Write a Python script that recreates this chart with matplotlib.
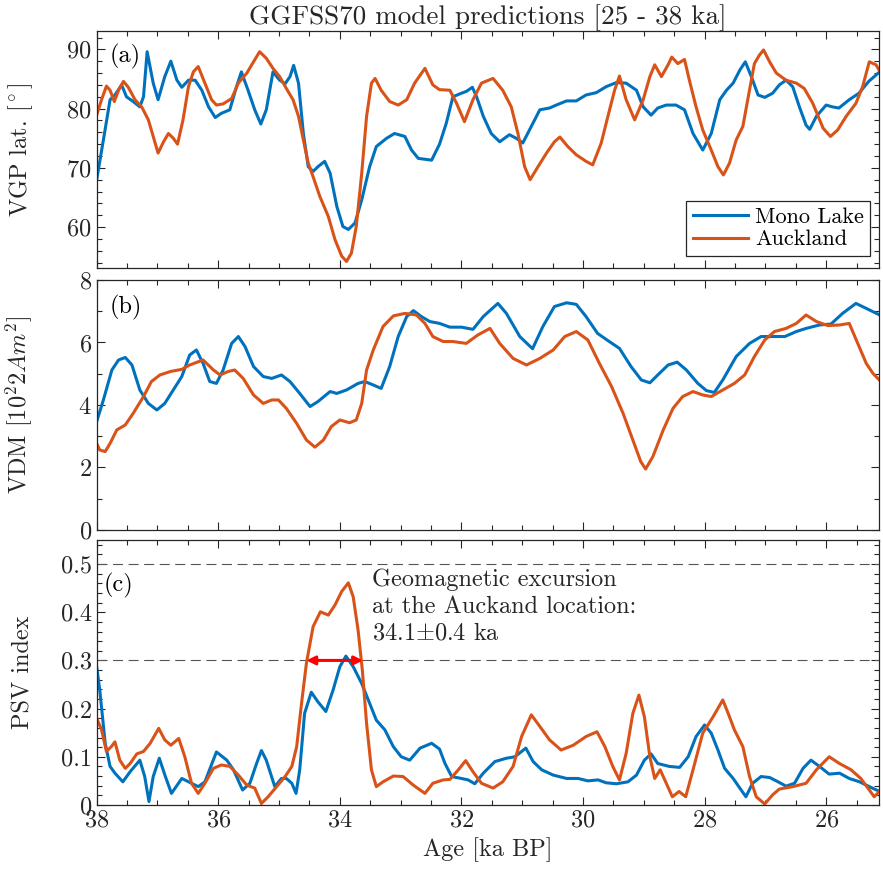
import numpy as np
import matplotlib
matplotlib.use("Agg")
import matplotlib.pyplot as plt
from matplotlib.ticker import MultipleLocator, FuncFormatter

plt.rcParams['font.family'] = 'serif'
plt.rcParams['font.serif'] = ['cmr10']
plt.rcParams['mathtext.fontset'] = 'cm'
plt.rcParams['axes.formatter.use_mathtext'] = True

BLUE = '#0072BD'
ORANGE = '#D95319'

# ---- panel (a): VGP latitude ----
age_vgp_mono = [38.0, 37.89, 37.78, 37.70, 37.59, 37.51, 37.40, 37.29, 37.23, 37.17, 37.07, 36.99,
                36.88, 36.78, 36.68, 36.60, 36.49, 36.38, 36.27, 36.16, 36.05, 35.95, 35.81, 35.70,
                35.62, 35.51, 35.40, 35.30, 35.21, 35.10, 34.99, 34.90, 34.82, 34.76, 34.68, 34.60,
                34.52, 34.44, 34.36, 34.25, 34.16, 34.05, 33.95, 33.86, 33.75, 33.64, 33.51, 33.40,
                33.23, 33.10, 32.93, 32.82, 32.71, 32.49, 32.36, 32.25, 32.14, 32.0, 31.92, 31.82,
                31.75, 31.64, 31.51, 31.37, 31.21, 31.10, 30.99, 30.85, 30.71, 30.55, 30.44, 30.27,
                30.11, 29.95, 29.78, 29.62, 29.45, 29.29, 29.12, 29.01, 28.88, 28.77, 28.63, 28.47,
                28.33, 28.19, 28.03, 27.89, 27.75, 27.64, 27.53, 27.42, 27.33, 27.23, 27.12, 27.01,
                26.88, 26.77, 26.66, 26.55, 26.44, 26.33, 26.27, 26.16, 26.0, 25.90, 25.79, 25.62,
                25.46, 25.30, 25.12]
vgp_mono = [68.0, 74.7, 81.5, 82.3, 84.0, 82.0, 81.2, 80.3, 82.0, 89.6, 84.3, 81.5,
            85.4, 88.0, 84.8, 83.6, 84.8, 84.8, 83.1, 80.3, 78.5, 79.2, 79.8, 83.7,
            86.2, 83.1, 79.8, 77.4, 79.8, 86.2, 84.8, 84.2, 85.4, 87.3, 84.3, 75.8,
            70.2, 69.4, 70.2, 71.1, 69.1, 63.5, 60.1, 59.6, 60.7, 64.6, 70.2, 73.6,
            75.0, 75.8, 75.3, 73.0, 71.6, 71.3, 74.0, 77.5, 82.0, 82.6, 82.9, 83.6,
            82.0, 78.7, 75.8, 74.4, 75.6, 75.0, 74.2, 77.0, 79.8, 80.1, 80.6, 81.3,
            81.3, 82.3, 82.7, 83.7, 84.4, 84.3, 83.1, 80.3, 78.9, 80.1, 80.6, 80.6,
            79.8, 75.8, 73.0, 75.8, 81.5, 83.1, 84.3, 86.5, 87.9, 85.4, 82.3, 81.9,
            82.6, 84.0, 84.8, 83.7, 80.3, 77.2, 76.5, 78.7, 80.6, 80.3, 80.1, 81.5,
            82.6, 84.6, 86.2]

age_vgp_auck = [38.0, 37.92, 37.84, 37.78, 37.71, 37.64, 37.56, 37.48, 37.37, 37.26, 37.15, 37.07,
                36.99, 36.90, 36.82, 36.74, 36.67, 36.58, 36.49, 36.41, 36.33, 36.22, 36.11, 36.03,
                35.92, 35.78, 35.67, 35.53, 35.42, 35.32, 35.21, 35.10, 34.99, 34.88, 34.77, 34.68,
                34.60, 34.52, 34.44, 34.33, 34.19, 34.08, 33.97, 33.89, 33.81, 33.73, 33.64, 33.56,
                33.48, 33.42, 33.32, 33.18, 33.04, 32.90, 32.77, 32.60, 32.47, 32.36, 32.19, 32.08,
                31.95, 31.81, 31.67, 31.48, 31.32, 31.18, 31.07, 30.96, 30.87, 30.74, 30.60, 30.47,
                30.38, 30.25, 30.11, 29.95, 29.84, 29.70, 29.59, 29.48, 29.40, 29.29, 29.15, 29.01,
                28.90, 28.82, 28.71, 28.60, 28.54, 28.44, 28.33, 28.25, 28.14, 28.03, 27.89, 27.78,
                27.69, 27.59, 27.48, 27.37, 27.29, 27.18, 27.10, 27.03, 26.93, 26.82, 26.66, 26.49,
                26.36, 26.22, 26.05, 25.93, 25.81, 25.67, 25.51, 25.40, 25.29, 25.18, 25.10]
vgp_auck = [78.9, 81.5, 83.8, 83.1, 81.2, 83.1, 84.6, 83.6, 81.5, 80.3, 78.1, 75.3,
            72.5, 74.4, 75.8, 75.0, 74.0, 78.1, 83.7, 86.2, 87.1, 84.3, 81.5, 80.6,
            80.8, 81.7, 84.3, 86.0, 87.9, 89.6, 88.5, 86.8, 85.4, 83.4, 81.5, 78.7,
            74.7, 70.8, 68.5, 65.2, 61.8, 57.9, 55.1, 54.2, 55.6, 60.1, 69.1, 78.7,
            84.3, 85.1, 83.1, 81.2, 80.6, 81.5, 84.3, 86.8, 84.0, 83.2, 83.1, 80.9,
            77.8, 81.5, 84.3, 85.1, 83.1, 80.3, 75.8, 70.2, 68.0, 70.2, 72.5, 74.4,
            75.2, 73.6, 72.2, 71.1, 70.5, 74.2, 78.7, 83.1, 85.5, 81.5, 78.1, 81.5,
            85.4, 87.4, 85.4, 87.4, 88.7, 87.6, 88.3, 84.8, 80.3, 76.4, 73.0, 70.2,
            68.8, 70.8, 74.7, 77.0, 81.5, 87.6, 89.0, 89.9, 87.9, 86.0, 84.8, 84.3,
            83.4, 80.9, 76.7, 75.3, 76.4, 78.7, 80.9, 83.7, 87.9, 87.4, 86.0]

# ---- panel (b): VDM ----
age_vdm_mono = [38.0, 37.89, 37.75, 37.64, 37.53, 37.42, 37.29, 37.15, 37.01, 36.88, 36.74, 36.60,
                36.47, 36.36, 36.25, 36.14, 36.03, 35.92, 35.78, 35.67, 35.56, 35.42, 35.26, 35.12,
                34.96, 34.82, 34.66, 34.49, 34.36, 34.16, 34.05, 33.89, 33.70, 33.59, 33.45, 33.32,
                33.18, 33.04, 32.90, 32.79, 32.66, 32.52, 32.36, 32.19, 32.0, 31.81, 31.64, 31.40,
                31.26, 31.04, 30.83, 30.66, 30.47, 30.27, 30.11, 29.95, 29.76, 29.59, 29.40, 29.21,
                29.04, 28.90, 28.77, 28.60, 28.45, 28.30, 28.11, 27.97, 27.84, 27.70, 27.48, 27.26,
                27.07, 26.88, 26.68, 26.49, 26.33, 26.11, 25.92, 25.73, 25.51, 25.34, 25.12]
vdm_mono = [3.47, 4.16, 5.12, 5.44, 5.52, 5.28, 4.48, 4.05, 3.84, 4.05, 4.48, 4.91,
            5.60, 5.76, 5.33, 4.75, 4.69, 5.12, 5.97, 6.19, 5.87, 5.23, 4.91, 4.85,
            4.96, 4.75, 4.37, 3.95, 4.11, 4.43, 4.37, 4.48, 4.69, 4.75, 4.64, 4.53,
            5.23, 6.19, 6.83, 7.02, 6.83, 6.67, 6.61, 6.49, 6.49, 6.42, 6.83, 7.25,
            6.93, 6.19, 5.80, 6.51, 7.15, 7.27, 7.22, 6.83, 6.29, 6.06, 5.81, 5.23,
            4.80, 4.71, 4.96, 5.28, 5.37, 5.12, 4.69, 4.46, 4.40, 4.80, 5.55, 5.97,
            6.19, 6.19, 6.19, 6.35, 6.45, 6.56, 6.59, 6.93, 7.25, 7.09, 6.88]

age_vdm_auck = [38.0, 37.95, 37.86, 37.78, 37.67, 37.53, 37.40, 37.23, 37.10, 36.96, 36.79, 36.60,
                36.47, 36.25, 36.08, 35.97, 35.84, 35.73, 35.59, 35.42, 35.26, 35.12, 35.01, 34.88,
                34.71, 34.55, 34.41, 34.27, 34.14, 34.0, 33.84, 33.73, 33.64, 33.56, 33.45, 33.29,
                33.12, 32.93, 32.74, 32.60, 32.47, 32.30, 32.14, 31.92, 31.73, 31.53, 31.37, 31.15,
                30.93, 30.71, 30.49, 30.30, 30.11, 29.92, 29.73, 29.53, 29.34, 29.18, 29.05, 28.97,
                28.85, 28.68, 28.52, 28.36, 28.19, 28.03, 27.89, 27.70, 27.51, 27.34, 27.18, 27.01,
                26.85, 26.66, 26.49, 26.33, 26.16, 25.97, 25.78, 25.62, 25.48, 25.34, 25.23, 25.10]
vdm_auck = [2.77, 2.56, 2.51, 2.77, 3.20, 3.36, 3.73, 4.27, 4.75, 4.96, 5.07, 5.14,
            5.28, 5.44, 5.12, 4.96, 5.07, 5.12, 4.85, 4.32, 4.05, 4.16, 4.16, 3.89,
            3.41, 2.88, 2.65, 2.88, 3.31, 3.52, 3.43, 3.52, 4.05, 5.12, 5.76, 6.51,
            6.85, 6.93, 6.88, 6.61, 6.19, 6.03, 6.03, 5.97, 6.24, 6.45, 5.97, 5.49,
            5.28, 5.49, 5.76, 6.19, 6.35, 6.08, 5.33, 4.59, 3.73, 2.88, 2.19, 1.95,
            2.35, 3.20, 3.89, 4.27, 4.43, 4.32, 4.27, 4.48, 4.69, 4.96, 5.55, 6.08,
            6.35, 6.45, 6.61, 6.88, 6.67, 6.54, 6.56, 6.61, 5.97, 5.33, 5.01, 4.75]

# ---- panel (c): PSV index ----
age_psv_mono = [38.0, 37.95, 37.86, 37.78, 37.70, 37.57, 37.45, 37.29, 37.21, 37.14, 37.07, 36.97,
                36.87, 36.77, 36.60, 36.44, 36.33, 36.22, 36.03, 35.86, 35.75, 35.60, 35.48, 35.37,
                35.29, 35.21, 35.07, 34.96, 34.88, 34.79, 34.72, 34.66, 34.58, 34.47, 34.36, 34.23,
                34.11, 34.0, 33.90, 33.78, 33.64, 33.51, 33.40, 33.26, 33.12, 32.99, 32.85, 32.68,
                32.49, 32.36, 32.27, 32.16, 32.0, 31.89, 31.78, 31.64, 31.45, 31.26, 31.12, 30.94,
                30.82, 30.68, 30.49, 30.27, 30.08, 29.92, 29.75, 29.62, 29.45, 29.26, 29.12, 28.99,
                28.88, 28.77, 28.58, 28.41, 28.27, 28.14, 28.0, 27.89, 27.78, 27.67, 27.53, 27.42,
                27.32, 27.21, 27.07, 26.93, 26.79, 26.66, 26.52, 26.38, 26.25, 26.11, 25.95, 25.78,
                25.62, 25.45, 25.29, 25.12]
psv_mono = [0.287, 0.239, 0.128, 0.080, 0.066, 0.048, 0.069, 0.093, 0.059, 0.007, 0.059, 0.097,
            0.059, 0.024, 0.055, 0.045, 0.038, 0.048, 0.110, 0.093, 0.073, 0.031, 0.045, 0.086,
            0.113, 0.093, 0.038, 0.055, 0.055, 0.045, 0.024, 0.073, 0.190, 0.234, 0.214, 0.194,
            0.239, 0.287, 0.309, 0.287, 0.252, 0.211, 0.176, 0.156, 0.121, 0.100, 0.093, 0.118,
            0.128, 0.116, 0.086, 0.059, 0.055, 0.052, 0.044, 0.066, 0.090, 0.097, 0.100, 0.118,
            0.090, 0.073, 0.062, 0.055, 0.055, 0.050, 0.052, 0.046, 0.044, 0.048, 0.062, 0.093,
            0.106, 0.086, 0.080, 0.078, 0.100, 0.142, 0.166, 0.149, 0.114, 0.076, 0.055, 0.035,
            0.017, 0.045, 0.059, 0.057, 0.048, 0.039, 0.045, 0.076, 0.093, 0.080, 0.064, 0.066,
            0.055, 0.048, 0.038, 0.028]

age_psv_auck = [38.0, 37.92, 37.84, 37.76, 37.70, 37.62, 37.53, 37.45, 37.34, 37.23, 37.12, 36.98,
                36.88, 36.78, 36.65, 36.55, 36.44, 36.33, 36.22, 36.08, 35.95, 35.81, 35.67, 35.53,
                35.40, 35.29, 35.18, 35.04, 34.90, 34.79, 34.71, 34.63, 34.55, 34.44, 34.32, 34.19,
                34.08, 33.97, 33.86, 33.78, 33.70, 33.63, 33.56, 33.48, 33.40, 33.29, 33.12, 32.96,
                32.79, 32.60, 32.47, 32.30, 32.19, 32.05, 31.93, 31.81, 31.67, 31.48, 31.32, 31.15,
                31.01, 30.85, 30.71, 30.55, 30.36, 30.16, 29.95, 29.77, 29.64, 29.51, 29.40, 29.29,
                29.18, 29.08, 28.99, 28.90, 28.82, 28.73, 28.63, 28.53, 28.42, 28.31, 28.19, 28.03,
                27.86, 27.70, 27.59, 27.51, 27.37, 27.26, 27.15, 27.01, 26.88, 26.77, 26.55, 26.33,
                26.16, 25.95, 25.78, 25.59, 25.43, 25.29, 25.21, 25.10]
psv_auck = [0.180, 0.156, 0.111, 0.121, 0.131, 0.093, 0.076, 0.086, 0.106, 0.111, 0.128, 0.159,
            0.135, 0.124, 0.138, 0.100, 0.045, 0.024, 0.045, 0.076, 0.083, 0.080, 0.062, 0.041,
            0.035, 0.003, 0.017, 0.038, 0.059, 0.080, 0.121, 0.211, 0.294, 0.370, 0.401, 0.394,
            0.415, 0.443, 0.461, 0.432, 0.363, 0.280, 0.169, 0.073, 0.038, 0.048, 0.060, 0.059,
            0.041, 0.024, 0.045, 0.052, 0.053, 0.073, 0.092, 0.069, 0.045, 0.035, 0.048, 0.080,
            0.142, 0.187, 0.163, 0.135, 0.114, 0.124, 0.142, 0.152, 0.121, 0.080, 0.052, 0.107,
            0.190, 0.228, 0.183, 0.100, 0.055, 0.073, 0.045, 0.017, 0.028, 0.017, 0.073, 0.149,
            0.183, 0.218, 0.183, 0.156, 0.121, 0.059, 0.017, 0.002, 0.021, 0.033, 0.038, 0.045,
            0.073, 0.100, 0.086, 0.073, 0.055, 0.031, 0.017, 0.031]

psv_thresholds = [0.5, 0.3]
excursion_age = 34.1
excursion_err = 0.4

fig = plt.figure(figsize=(8.83, 8.76), dpi=100)
L, R = 0.1095, 0.9955
ax_a = fig.add_axes([L, 0.6941, R - L, 0.9646 - 0.6941])
ax_b = fig.add_axes([L, 0.3950, R - L, 0.6804 - 0.3950])
ax_c = fig.add_axes([L, 0.0811, R - L, 0.3836 - 0.0811])

FS = 17.5
lw = 2.2
dark = '#262626'

for ax in (ax_a, ax_b, ax_c):
    ax.set_xlim(38, 25.13)
    ax.xaxis.set_major_locator(MultipleLocator(2))
    ax.xaxis.set_minor_locator(MultipleLocator(0.5))
    ax.tick_params(which='both', direction='in', top=True, right=True,
                   color=dark, labelsize=FS, labelcolor=dark, width=0.8)
    ax.tick_params(which='major', length=6)
    ax.tick_params(which='minor', length=3.5)
    for s in ax.spines.values():
        s.set_color(dark)
        s.set_linewidth(0.9)

ax_a.plot(age_vgp_mono, vgp_mono, color=BLUE, lw=lw, label='Mono Lake')
ax_a.plot(age_vgp_auck, vgp_auck, color=ORANGE, lw=lw, label='Auckland')
ax_a.set_ylim(53.1, 93.1)
ax_a.yaxis.set_major_locator(MultipleLocator(10))
ax_a.yaxis.set_minor_locator(MultipleLocator(2))
ax_a.tick_params(labelbottom=False)
ax_a.set_ylabel(r'VGP lat. [$^\circ$]', fontsize=FS, color=dark)
ax_a.text(0.017, 0.945, '(a)', transform=ax_a.transAxes, fontsize=FS, va='top', ha='left')
leg = ax_a.legend(loc='lower right', bbox_to_anchor=(0.989, 0.05), borderaxespad=0,
                  fontsize=16, fancybox=False, framealpha=1, edgecolor=dark,
                  handlelength=2.5, borderpad=0.3, labelspacing=0.12, handletextpad=0.3)
leg.get_frame().set_linewidth(0.9)
ax_a.set_title('GGFSS70 model predictions [25 - 38 ka]', fontsize=19.5, color=dark, pad=3)

ax_b.plot(age_vdm_mono, vdm_mono, color=BLUE, lw=lw)
ax_b.plot(age_vdm_auck, vdm_auck, color=ORANGE, lw=lw)
ax_b.set_ylim(0, 8)
ax_b.yaxis.set_major_locator(MultipleLocator(2))
ax_b.yaxis.set_minor_locator(MultipleLocator(1))
ax_b.tick_params(labelbottom=False)
ax_b.set_ylabel(r'VDM [$10^22Am^2$]', fontsize=FS, color=dark)
ax_b.text(0.017, 0.94, '(b)', transform=ax_b.transAxes, fontsize=FS, va='top', ha='left')

for th in psv_thresholds:
    ax_c.axhline(th, color='#555555', lw=0.8, ls=(0, (9, 5)))
ax_c.plot(age_psv_mono, psv_mono, color=BLUE, lw=lw)
ax_c.plot(age_psv_auck, psv_auck, color=ORANGE, lw=lw)
ax_c.annotate('', xy=(excursion_age + excursion_err + 0.05, 0.3),
              xytext=(excursion_age - excursion_err - 0.08, 0.3),
              arrowprops=dict(arrowstyle='<|-|>,head_length=0.5,head_width=0.25',
                              color='#FF0000', lw=2.2, shrinkA=0, shrinkB=0))
ax_c.text(33.47, 0.49,
          'Geomagnetic excursion\nat the Auckand location:\n' +
          r'34.1$\pm$0.4 ka',
          fontsize=FS, va='top', ha='left', linespacing=1.25, color=dark)
ax_c.set_ylim(0, 0.55)
ax_c.yaxis.set_major_locator(MultipleLocator(0.1))
ax_c.yaxis.set_minor_locator(MultipleLocator(0.02))
ax_c.yaxis.set_major_formatter(FuncFormatter(lambda v, p: '0' if abs(v) < 1e-9 else '%g' % v))
ax_c.set_ylabel('PSV index', fontsize=FS, color=dark)
ax_c.set_xlabel('Age [ka BP]', fontsize=FS, color=dark, labelpad=4)
ax_c.text(37.89, 0.455, '(c)', fontsize=FS, va='center', ha='left')

for ax in (ax_a, ax_b, ax_c):
    ax.yaxis.set_label_coords(-0.079, 0.5)

fig.savefig('out.png', dpi=100)
